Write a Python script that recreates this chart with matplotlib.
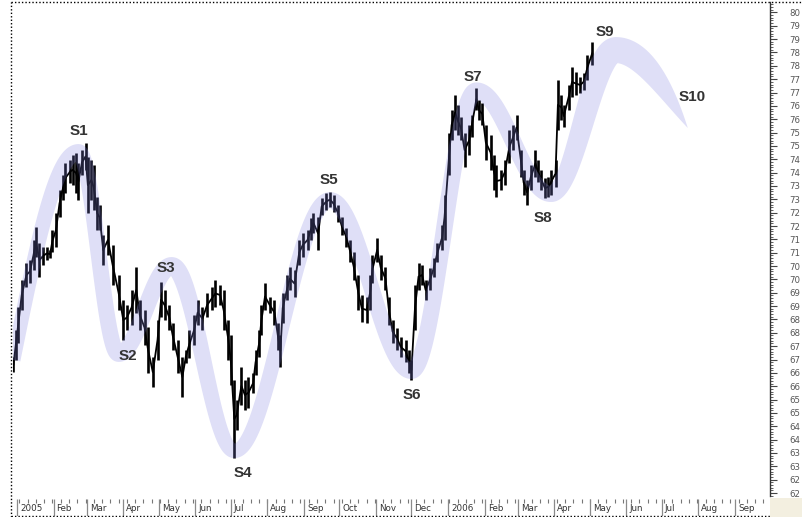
import numpy as np
import pandas as pd
import matplotlib
matplotlib.use("Agg")
import matplotlib.pyplot as plt
import matplotlib.dates as mdates
from matplotlib.patches import Polygon, Rectangle
from matplotlib.lines import Line2D
from matplotlib.ticker import MultipleLocator

# ---------------- data ----------------
base_date = "2005-01-01"
# bar dates, as days after base_date
bar_day = [-3, -1, 1, 4, 8, 11, 14, 16, 19, 22,
           25, 28, 30, 33, 36, 39, 41, 45, 47, 50,
           52, 55, 58, 60, 63, 65, 68, 70, 73, 77,
           81, 86, 90, 93, 97, 101, 104, 108, 111, 115,
           119, 122, 125, 129, 132, 136, 140, 143, 146, 150,
           153, 157, 161, 165, 168, 172, 175, 179, 181, 184,
           186, 190, 193, 196, 200, 202, 205, 207, 210, 214,
           218, 221, 223, 225, 229, 231, 235, 239, 242, 246,
           249, 251, 255, 258, 262, 265, 268, 272, 275, 279,
           282, 285, 289, 292, 296, 299, 301, 305, 308, 312,
           315, 318, 322, 325, 329, 332, 334, 337, 340, 343,
           346, 350, 353, 356, 360, 362, 366, 368, 371, 373,
           376, 379, 383, 385, 389, 391, 394, 397, 401, 404,
           406, 410, 413, 417, 420, 423, 427, 429, 432, 435,
           439, 441, 444, 447, 450, 452, 456, 458, 461, 463,
           467, 470, 473, 477, 480, 483, 487]
bar_high = [67.09, 68.10, 68.97, 69.98, 70.61, 70.73, 71.48, 71.96, 71.36, 71.21,
            71.21, 71.10, 71.85, 72.49, 73.35, 73.91, 74.36, 74.47, 74.66, 74.73,
            74.36, 74.85, 75.11, 74.58, 74.47, 74.28, 73.09, 72.79, 71.66, 72.04,
            71.29, 70.16, 69.23, 69.04, 69.60, 70.46, 69.23, 68.85, 68.22, 67.09,
            68.48, 69.90, 69.60, 69.04, 68.37, 67.73, 67.09, 67.36, 68.10, 68.67,
            69.23, 68.97, 69.49, 69.72, 69.98, 69.79, 69.60, 68.48, 67.92, 66.23,
            65.48, 66.72, 66.23, 66.34, 66.49, 67.36, 68.10, 69.04, 69.87, 69.34,
            69.23, 68.37, 67.92, 69.49, 70.16, 70.46, 70.35, 71.48, 71.74, 71.85,
            72.30, 72.49, 72.34, 73.05, 73.24, 73.27, 73.16, 72.79, 72.34, 71.93,
            71.48, 71.03, 70.16, 69.42, 69.34, 70.16, 70.91, 71.55, 70.91, 70.46,
            69.34, 68.48, 68.18, 67.84, 67.73, 67.36, 66.98, 69.79, 70.61, 70.54,
            69.98, 70.43, 70.80, 71.36, 72.04, 73.16, 75.48, 76.34, 76.91, 76.53,
            76.08, 75.48, 75.78, 76.16, 77.17, 76.72, 76.61, 75.78, 75.41, 74.66,
            74.28, 74.10, 74.47, 75.60, 75.78, 76.16, 74.85, 74.10, 73.72, 74.28,
            74.85, 74.47, 74.10, 73.80, 73.84, 74.10, 74.47, 77.47, 76.91, 76.53,
            77.28, 77.96, 77.77, 77.58, 77.73, 78.40, 78.89]
bar_low = [66.53, 66.98, 67.62, 68.85, 69.72, 69.87, 70.35, 70.84, 70.09, 70.54,
           70.73, 70.80, 71.03, 71.21, 72.34, 72.97, 73.24, 73.61, 73.54, 73.24,
           72.97, 73.91, 74.10, 72.49, 72.97, 72.60, 71.85, 71.85, 70.54, 70.91,
           69.79, 68.85, 67.73, 68.10, 68.29, 68.74, 68.10, 67.54, 66.49, 65.97,
           66.98, 68.59, 68.48, 68.10, 67.36, 66.49, 65.60, 66.87, 67.06, 67.54,
           68.29, 68.10, 68.59, 68.85, 68.97, 69.04, 68.10, 66.98, 66.04, 63.31,
           64.36, 65.30, 65.11, 65.18, 65.75, 66.42, 67.09, 67.92, 68.85, 68.74,
           68.29, 67.36, 66.72, 68.37, 69.23, 69.60, 69.34, 70.54, 70.84, 71.10,
           71.48, 71.74, 71.10, 72.41, 72.60, 72.71, 72.52, 72.15, 71.66, 71.21,
           70.65, 69.98, 68.85, 68.40, 68.37, 68.85, 69.87, 70.65, 69.98, 69.60,
           68.29, 67.62, 67.36, 67.09, 66.91, 66.49, 66.23, 68.10, 69.60, 69.79,
           69.23, 69.60, 70.09, 70.65, 71.10, 71.48, 73.91, 75.22, 75.60, 75.41,
           75.22, 74.21, 74.66, 75.33, 76.34, 75.97, 75.78, 74.47, 74.10, 73.35,
           73.09, 73.35, 73.54, 74.36, 74.85, 75.22, 73.84, 73.16, 72.79, 73.35,
           73.84, 73.65, 73.35, 73.05, 73.09, 73.16, 73.46, 75.60, 75.97, 75.71,
           76.34, 76.83, 76.91, 76.98, 77.09, 77.47, 78.03]

# wave band turning points (start, S1..S10)
wave_day = [-3, 52, 86, 131, 184, 265, 334, 389, 452, 507, 568]
wave_value = [66.98, 74.77, 67.21, 70.50, 63.57, 72.97, 66.57, 77.06, 73.20, 78.59, 75.67]

wave_labels = ["S1", "S2", "S3", "S4", "S5", "S6", "S7", "S8", "S9", "S10"]
label_day = [52.5, 94, 126, 191, 264, 334.5, 386, 445, 498, 571.5]
label_value = [75.56, 67.13, 70.43, 62.75, 73.72, 65.67, 77.58, 72.30, 79.27, 76.83]

month_labels = ["2005", "Feb", "Mar", "Apr", "May", "Jun", "Jul", "Aug", "Sep", "Oct",
                "Nov", "Dec", "2006", "Feb", "Mar", "Apr", "May", "Jun", "Jul", "Aug", "Sep"]
y_ticks = np.arange(62, 80.01, 0.5)
y_tick_labels = [str(int(v)) for v in y_ticks]

# ---------------- layout ----------------
W, H = 802, 517
fig = plt.figure(figsize=(W / 100, H / 100), dpi=100)
fig.patch.set_facecolor("white")


def frame(l, t, r, b):
    return [l / W, 1 - b / H, (r - l) / W, (b - t) / H]


base = mdates.datestr2num(base_date)
xlim = (base - 3.39, base + 637.6)

ax = fig.add_axes(frame(13, 2, 770, 496))
ax.set_xlim(*xlim)
ax.set_ylim(61.888, 80.39)

# price bars
bx = base + np.array(bar_day, dtype=float)
bh = np.array(bar_high)
bl = np.array(bar_low)
ax.vlines(bx, bl, bh, colors="black", lw=1.9, zorder=2)
ax.plot(bx, (bh + bl) / 2, color="black", lw=1.3, zorder=2)

# wave band
wd = np.array(wave_day, dtype=float)
wv = np.array(wave_value)
widths = [14, 16, 16, 18, 14, 16, 16, 17, 16, 26, 0]
cx, cy, cw = [], [], []
nseg = len(wd) - 1
for k in range(nseg):
    t = np.linspace(0, 1, 120, endpoint=(k == nseg - 1))
    if k == 0:
        f = np.sin(np.pi / 2 * t)
    elif k == nseg - 1:
        f = 1 - np.cos(np.pi / 2 * t)
    else:
        f = (1 - np.cos(np.pi * t)) / 2
    cx.append(base + wd[k] + t * (wd[k + 1] - wd[k]))
    cy.append(wv[k] + f * (wv[k + 1] - wv[k]))
    if k == nseg - 1:
        cw.append(widths[k] * (1 - t ** 2.5))
    else:
        cw.append(widths[k] + t * (widths[k + 1] - widths[k]))
cx = np.concatenate(cx)
cy = np.concatenate(cy)
cw = np.concatenate(cw)
pts = ax.transData.transform(np.column_stack([cx, cy]))
d = np.gradient(pts, axis=0)
n = np.column_stack([-d[:, 1], d[:, 0]])
n /= np.linalg.norm(n, axis=1)[:, None]
up = pts + n * cw[:, None] / 2
lo = pts - n * cw[:, None] / 2
poly = ax.transData.inverted().transform(np.vstack([up, lo[::-1]]))
ax.add_patch(Polygon(poly, closed=True, facecolor="#8080e0", alpha=0.25,
                     edgecolor="none", zorder=3))

# wave labels
for lab, dd, vv in zip(wave_labels, label_day, label_value):
    ax.text(base + dd, vv, lab, ha="center", va="center", fontsize=11,
            fontweight="bold", color="#333333", family="Liberation Sans", zorder=4)

# axes styling
for s in ["left", "top", "bottom"]:
    ax.spines[s].set_visible(False)
ax.spines["right"].set_color("#333333")
ax.spines["right"].set_linewidth(1.0)
ax.set_xticks([])
ax.yaxis.tick_right()
ax.set_yticks(y_ticks)
ax.set_yticklabels(y_tick_labels)
ax.yaxis.set_minor_locator(MultipleLocator(0.1))
ax.tick_params(axis="y", which="major", direction="out", length=5, width=0.8,
               color="#444444", pad=9, labelsize=6.2, labelcolor="#555555")
ax.tick_params(axis="y", which="minor", direction="out", length=2.5, width=0.6,
               color="#444444")

# date strip
ax2 = fig.add_axes(frame(13, 497, 770, 516))
ax2.set_xlim(*xlim)
ax2.set_ylim(0, 1)
ax2.axis("off")
months = mdates.date2num(pd.date_range("2005-01-01", "2006-09-01", freq="MS").to_pydatetime())
weeks = mdates.date2num(pd.date_range("2005-01-03", "2006-09-30", freq="W-MON").to_pydatetime())
ax2.vlines(weeks, 0.68, 0.9, colors="#777777", lw=0.8)
ax2.vlines(months, 0.0, 0.9, colors="#8a8a8a", lw=0.9)
for m, lab in zip(months, month_labels):
    ax2.text(m + 2.5, 0.38, lab, ha="left", va="center", fontsize=6.3, color="#333333")

# beige corner box and dotted frame
fig.patches.append(Rectangle((770 / W, 0), 32 / W, 19 / H, transform=fig.transFigure,
                             facecolor="#f3efe0", edgecolor="none"))
dot = dict(transform=fig.transFigure, color="black", lw=1.0, ls=(0, (1, 1.5)))
fig.add_artist(Line2D([11 / W, 11 / W], [0, 1 - 2 / H], **dot))
fig.add_artist(Line2D([11 / W, 1], [1 - 2 / H, 1 - 2 / H], **dot))
fig.add_artist(Line2D([11 / W, 770 / W], [1 / H, 1 / H], **dot))

fig.savefig("out.png", dpi=100)
